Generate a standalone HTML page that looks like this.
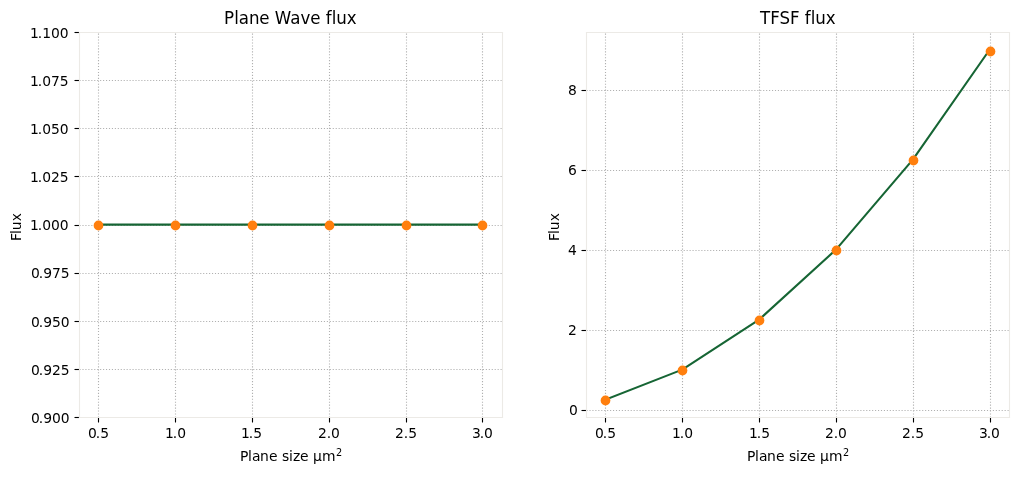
<!DOCTYPE html>
<html lang="en">
<head>
<meta charset="utf-8">
<title>Plane Wave flux / TFSF flux</title>
<style>
html,body{margin:0;padding:0;background:#fff;}
body{width:1018px;height:478px;overflow:hidden;}
svg{display:block;}
text{font-family:"DejaVu Sans","Liberation Sans",sans-serif;fill:#000;white-space:pre;}
.t{font-size:13.889px;}
.ti{font-size:16.667px;}
.su{font-size:9.722px;}
.g{stroke:#b0b0b0;stroke-width:1.1111;stroke-dasharray:1.1111 1.8333;fill:none;}
.s{stroke:#eceae6;stroke-width:1.1111;fill:none;stroke-linecap:square;}
.k{stroke:#000;stroke-width:1.1111;fill:none;}
.l{stroke:#166534;stroke-width:2.0833;fill:none;stroke-linejoin:round;stroke-linecap:square;}
.m{fill:#ff7f0e;}
</style>
</head>
<body>
<svg width="1018" height="478" viewBox="0 0 1018 478">
<rect width="1018" height="478" fill="#ffffff"/>
<g id="axes1">
<path class="g" d="M98.5 417.5V32.5"/>
<path class="g" d="M175.5 417.5V32.5"/>
<path class="g" d="M252.5 417.5V32.5"/>
<path class="g" d="M329.5 417.5V32.5"/>
<path class="g" d="M406.5 417.5V32.5"/>
<path class="g" d="M482.5 417.5V32.5"/>
<path class="g" d="M79.5 32.5H502.5"/>
<path class="g" d="M79.5 80.5H502.5"/>
<path class="g" d="M79.5 128.5H502.5"/>
<path class="g" d="M79.5 176.5H502.5"/>
<path class="g" d="M79.5 225.5H502.5"/>
<path class="g" d="M79.5 273.5H502.5"/>
<path class="g" d="M79.5 321.5H502.5"/>
<path class="g" d="M79.5 369.5H502.5"/>
<path class="g" d="M79.5 417.5H502.5"/>
<path class="k" d="M98.5 417.5v5"/>
<path class="k" d="M175.5 417.5v5"/>
<path class="k" d="M252.5 417.5v5"/>
<path class="k" d="M329.5 417.5v5"/>
<path class="k" d="M406.5 417.5v5"/>
<path class="k" d="M482.5 417.5v5"/>
<path class="k" d="M79.5 32.5h-5"/>
<path class="k" d="M79.5 80.5h-5"/>
<path class="k" d="M79.5 128.5h-5"/>
<path class="k" d="M79.5 176.5h-5"/>
<path class="k" d="M79.5 225.5h-5"/>
<path class="k" d="M79.5 273.5h-5"/>
<path class="k" d="M79.5 321.5h-5"/>
<path class="k" d="M79.5 369.5h-5"/>
<path class="k" d="M79.5 417.5h-5"/>
<path class="l" d="M98.12 224.62L174.98 224.62L251.84 224.62L328.7 224.62L405.56 224.62L482.42 224.62"/>
<ellipse class="m" cx="98.5" cy="225.55" rx="4.861" ry="4.95"/>
<ellipse class="m" cx="175.5" cy="225.55" rx="4.861" ry="4.95"/>
<ellipse class="m" cx="252.5" cy="225.55" rx="4.861" ry="4.95"/>
<ellipse class="m" cx="329.5" cy="225.55" rx="4.861" ry="4.95"/>
<ellipse class="m" cx="406.5" cy="225.55" rx="4.861" ry="4.95"/>
<ellipse class="m" cx="482.5" cy="225.55" rx="4.861" ry="4.95"/>
<path class="s" d="M79.5 417.5V32.5"/>
<path class="s" d="M502.5 417.5V32.5"/>
<path class="s" d="M79.5 417.5H502.5"/>
<path class="s" d="M79.5 32.5H502.5"/>
<text id="c0x0" class="t" x="87.875 95.75 100.125" y="438">0.5</text>
<text id="c0x1" class="t" x="164.875 172.75 177.125" y="438">1.0</text>
<text id="c0x2" class="t" x="240.875 248.75 253.125" y="438">1.5</text>
<text id="c0x3" class="t" x="317.875 326.75 330.875" y="438">2.0</text>
<text id="c0x4" class="t" x="394.875 403.625 408.125" y="438">2.5</text>
<text id="c0x5" class="t" x="471.875 479.75 483.875" y="438">3.0</text>
<text id="c0y0" class="t" x="29.875 37.75 42.25 50.875 59.625" y="38">1.100</text>
<text id="c0y1" class="t" x="29.875 37.75 42.125 50.875 59.625" y="86">1.075</text>
<text id="c0y2" class="t" x="29.875 37.75 42.125 50.875 59.625" y="134">1.050</text>
<text id="c0y3" class="t" x="29.875 37.75 42.125 50.875 59.625" y="182">1.025</text>
<text id="c0y4" class="t" x="29.875 37.75 42.125 50.875 59.625" y="230">1.000</text>
<text id="c0y5" class="t" x="30.875 38.75 43.125 51.875 60.625" y="278">0.975</text>
<text id="c0y6" class="t" x="30.875 38.75 43.125 51.875 60.625" y="327">0.950</text>
<text id="c0y7" class="t" x="30.875 38.65 43.125 51.875 60.625" y="375">0.925</text>
<text id="c0y8" class="t" x="30.875 38.65 43.125 51.875 60.625" y="423">0.900</text>
<text id="c0title" class="ti" transform="translate(0 24) scale(1 1.06)" x="223.9 234.15 238.65 248.9 259.15 269.625 274.65 290.275 300.4 310.275 320.625 325.65 331.775 336.15 346.65" y="0">Plane Wave flux</text>
<text id="c0xlabel" class="t" x="239.875 247.875 251.875 259.875 268.875 278 281.875 288.875 292.875 299.875 309 312.875 321.875" y="461">Plane size µm<tspan class="su" x="335.875" y="456">2</tspan></text>
<text id="c0ylabel" class="t" transform="translate(21 478) rotate(-90)" x="236.9 243.9 247.65 256.65" y="0">Flux</text>
</g>
<g id="axes2">
<path class="g" d="M605.5 417.5V32.5"/>
<path class="g" d="M682.5 417.5V32.5"/>
<path class="g" d="M759.5 417.5V32.5"/>
<path class="g" d="M836.5 417.5V32.5"/>
<path class="g" d="M913.5 417.5V32.5"/>
<path class="g" d="M990.5 417.5V32.5"/>
<path class="g" d="M586.5 90.5H1009.5"/>
<path class="g" d="M586.5 170.5H1009.5"/>
<path class="g" d="M586.5 250.5H1009.5"/>
<path class="g" d="M586.5 330.5H1009.5"/>
<path class="g" d="M586.5 410.5H1009.5"/>
<path class="k" d="M605.5 417.5v5"/>
<path class="k" d="M682.5 417.5v5"/>
<path class="k" d="M759.5 417.5v5"/>
<path class="k" d="M836.5 417.5v5"/>
<path class="k" d="M913.5 417.5v5"/>
<path class="k" d="M990.5 417.5v5"/>
<path class="k" d="M586.5 90.5h-5"/>
<path class="k" d="M586.5 170.5h-5"/>
<path class="k" d="M586.5 250.5h-5"/>
<path class="k" d="M586.5 330.5h-5"/>
<path class="k" d="M586.5 410.5h-5"/>
<path class="l" d="M605.39 399.62L682.25 369.62L759.11 319.62L835.97 249.62L912.83 159.62L989.69 49.62"/>
<ellipse class="m" cx="605.5" cy="400.55" rx="4.861" ry="4.95"/>
<ellipse class="m" cx="682.5" cy="370.55" rx="4.861" ry="4.95"/>
<ellipse class="m" cx="759.5" cy="320.55" rx="4.861" ry="4.95"/>
<ellipse class="m" cx="836.5" cy="250.55" rx="4.861" ry="4.95"/>
<ellipse class="m" cx="913.5" cy="160.55" rx="4.861" ry="4.95"/>
<ellipse class="m" cx="990.5" cy="51.55" rx="4.861" ry="4.95"/>
<path class="s" d="M586.5 417.5V32.5"/>
<path class="s" d="M1009.5 417.5V32.5"/>
<path class="s" d="M586.5 417.5H1009.5"/>
<path class="s" d="M586.5 32.5H1009.5"/>
<text id="c1x0" class="t" x="594.875 602.75 607.125" y="438">0.5</text>
<text id="c1x1" class="t" x="671.875 679.75 684.125" y="438">1.0</text>
<text id="c1x2" class="t" x="748.875 756.75 761.125" y="438">1.5</text>
<text id="c1x3" class="t" x="824.875 833.75 837.875" y="438">2.0</text>
<text id="c1x4" class="t" x="901.875 910.625 915.125" y="438">2.5</text>
<text id="c1x5" class="t" x="978.875 986.75 990.875" y="438">3.0</text>
<text id="c1y0" class="t" x="567.875" y="95">8</text>
<text id="c1y1" class="t" x="567.875" y="175">6</text>
<text id="c1y2" class="t" x="567.875" y="255">4</text>
<text id="c1y3" class="t" x="567.875" y="335">2</text>
<text id="c1y4" class="t" x="568.875" y="415">0</text>
<text id="c1title" class="ti" transform="translate(0 24) scale(1 1.06)" x="759.9 770.15 779.4 789.9 800.5 804.65 810.65 815.15 825.65" y="0">TFSF flux</text>
<text id="c1xlabel" class="t" x="746.875 754.875 758.875 766.875 775.875 785 788.875 795.875 799.875 806.875 816 819.875 828.875" y="461">Plane size µm<tspan class="su" x="842.875" y="456">2</tspan></text>
<text id="c1ylabel" class="t" transform="translate(559 478) rotate(-90)" x="236.9 243.9 247.65 256.65" y="0">Flux</text>
</g>
</svg>
</body>
</html>
